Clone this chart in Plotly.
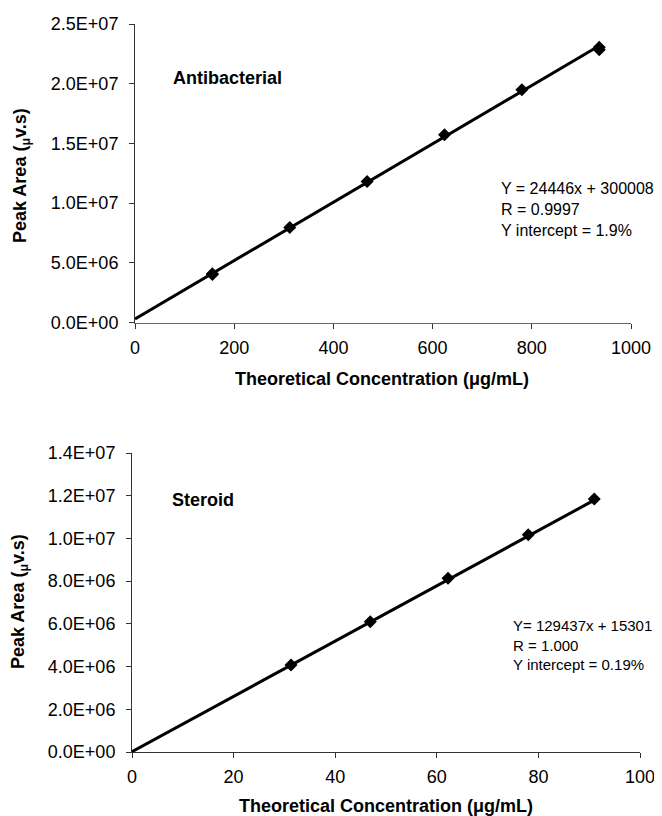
import plotly.graph_objects as go

# Antibacterial data
ab_conc = [156, 156, 312, 468, 624, 780, 936, 936]
ab_area = [4.02e6, 4.08e6, 7.96e6, 1.180e7, 1.572e7, 1.949e7, 2.305e7, 2.285e7]
ab_slope, ab_intercept = 24446, 300008
ab_fit_x = [0, 936]

# Steroid data
st_conc = [31.3, 46.9, 62.2, 78.0, 91.0]
st_area = [4.07e6, 6.10e6, 8.14e6, 1.017e7, 1.185e7]
st_slope, st_intercept = 129437, 15301
st_fit_x = [0, 91.0]

ab_yticks = [0, 5e6, 1e7, 1.5e7, 2e7, 2.5e7]
ab_yticktext = ["0.0E+00", "5.0E+06", "1.0E+07", "1.5E+07", "2.0E+07", "2.5E+07"]
ab_xticks = [0, 200, 400, 600, 800, 1000]

st_yticks = [0, 2e6, 4e6, 6e6, 8e6, 1e7, 1.2e7, 1.4e7]
st_yticktext = ["0.0E+00", "2.0E+06", "4.0E+06", "6.0E+06", "8.0E+06", "1.0E+07", "1.2E+07", "1.4E+07"]
st_xticks = [0, 20, 40, 60, 80, 100]

FONT = "Liberation Sans, Arial, sans-serif"

# page body margin offsets the figure by 8px
OFF = 8
W, H = 662 - OFF, 816 - OFF

def px(x):
    return (x - OFF) / W

def py(y):
    return 1 - (y - OFF) / H

fig = go.Figure()

fig.add_trace(go.Scatter(x=ab_fit_x, y=[ab_slope * v + ab_intercept for v in ab_fit_x],
                         mode="lines", line=dict(color="black", width=3),
                         xaxis="x", yaxis="y", showlegend=False))
fig.add_trace(go.Scatter(x=ab_conc, y=ab_area, mode="markers",
                         marker=dict(symbol="diamond", size=10, color="black"),
                         xaxis="x", yaxis="y", showlegend=False))
fig.add_trace(go.Scatter(x=st_fit_x, y=[st_slope * v + st_intercept for v in st_fit_x],
                         mode="lines", line=dict(color="black", width=3),
                         xaxis="x2", yaxis="y2", showlegend=False))
fig.add_trace(go.Scatter(x=st_conc, y=st_area, mode="markers",
                         marker=dict(symbol="diamond", size=10, color="black"),
                         xaxis="x2", yaxis="y2", showlegend=False))

axis_common = dict(showgrid=False, zeroline=False, showline=True,
                   linewidth=1, ticks="outside", ticklen=5, tickcolor="#333",
                   automargin=False,
                   tickfont=dict(family=FONT, size=18, color="black"))

fig.update_layout(
    width=W, height=H,
    margin=dict(l=0, r=0, t=0, b=0, pad=0, autoexpand=False),
    paper_bgcolor="white", plot_bgcolor="white",
    xaxis=dict(domain=[px(135), px(631)], range=[0, 1000], tickvals=ab_xticks,
               anchor="y", linecolor="#666", ticklabelstandoff=4, **axis_common),
    yaxis=dict(domain=[py(322.5), py(24)], range=[0, 2.5e7], tickvals=ab_yticks,
               ticktext=ab_yticktext, anchor="x", linecolor="#333",
               ticklabelstandoff=7, **axis_common),
    xaxis2=dict(domain=[px(132), px(640)], range=[0, 100], tickvals=st_xticks,
                anchor="y2", linecolor="#333", ticklabelstandoff=3, **axis_common),
    yaxis2=dict(domain=[py(752), py(453)], range=[0, 1.4e7], tickvals=st_yticks,
                ticktext=st_yticktext, anchor="x2", linecolor="#333",
                ticklabelstandoff=7, **axis_common),
)

def ann(text, x, y, size, bold=False, xanchor="left", yanchor="middle", angle=0, align="left"):
    if bold:
        text = "<b>" + text + "</b>"
    fig.add_annotation(text=text, x=px(x), y=py(y), xref="paper", yref="paper",
                       showarrow=False, xanchor=xanchor, yanchor=yanchor, textangle=angle,
                       align=align, font=dict(family=FONT, size=size, color="black"))

ann("Antibacterial", 171, 78, 18, bold=True)
ann("Steroid", 170, 500, 18, bold=True)
ann("Y = 24446x + 300008<br>R = 0.9997<br>Y intercept = 1.9%", 499, 209, 16)
ann("Y= 129437x + 15301<br>R = 1.000<br>Y intercept = 0.19%", 511, 645, 15)
ann("Theoretical Concentration (μg/mL)", 382, 379, 18, bold=True, xanchor="center")
ann("Theoretical Concentration (μg/mL)", 386, 806, 18, bold=True, xanchor="center")
ann("Peak Area (<sub>μ</sub>v.s)", 22, 176, 18, bold=True, xanchor="center", angle=-90)
ann("Peak Area (<sub>μ</sub>v.s)", 19, 602, 18, bold=True, xanchor="center", angle=-90)

fig.write_html("out.html")
